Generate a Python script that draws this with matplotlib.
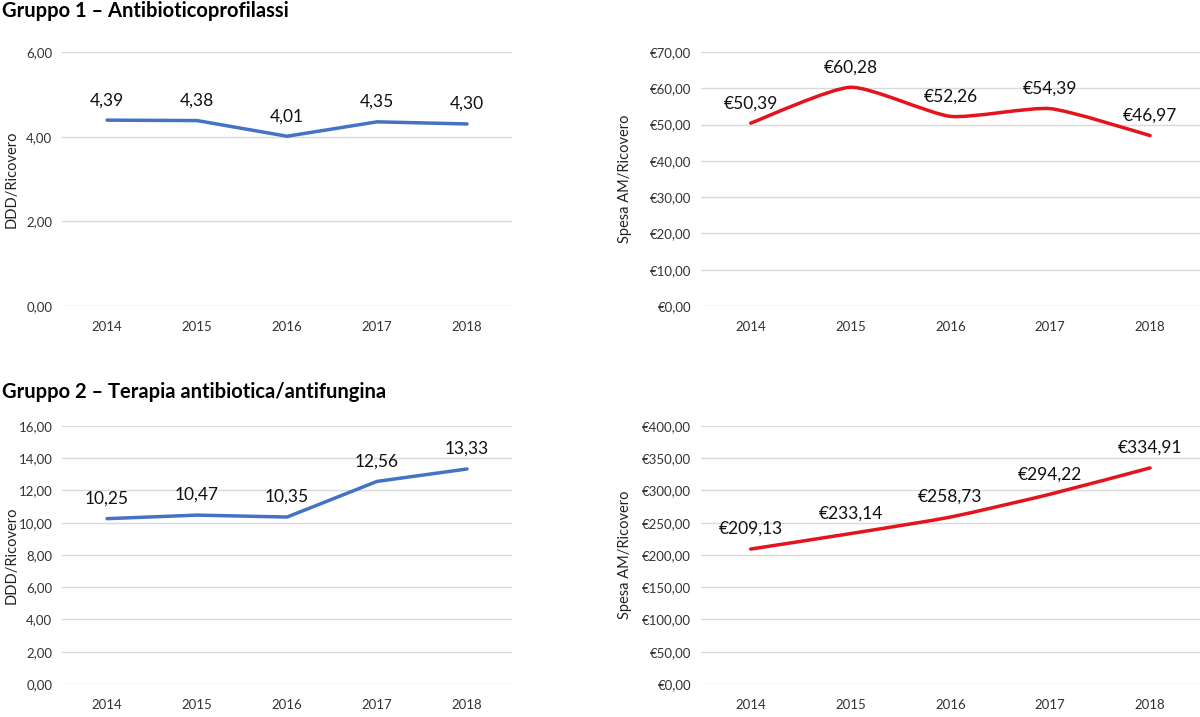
import matplotlib
matplotlib.use("Agg")
import matplotlib.pyplot as plt
from matplotlib.path import Path
from matplotlib.patches import PathPatch
from matplotlib.ticker import FuncFormatter, MultipleLocator

plt.rcParams['font.family'] = ['Lato', 'DejaVu Sans']

years = ['2014', '2015', '2016', '2017', '2018']

# Gruppo 1 - Antibioticoprofilassi
ddd_g1 = [4.39, 4.38, 4.01, 4.35, 4.30]
spesa_g1 = [50.39, 60.28, 52.26, 54.39, 46.97]

# Gruppo 2 - Terapia antibiotica/antifungina
ddd_g2 = [10.25, 10.47, 10.35, 12.56, 13.33]
spesa_g2 = [209.13, 233.14, 258.73, 294.22, 334.91]

BLUE = '#4472C4'
RED = '#E3141B'
GRID = '#D9D9D9'


def it_num(v):
    return f"{v:.2f}".replace('.', ',')


def euro(v):
    return "€" + it_num(v)


def smooth_path(x, y, k=10):
    # bezier segments through the data points (like excel "smoothed line")
    verts = [(x[0], y[0])]
    codes = [Path.MOVETO]
    n = len(x)
    for i in range(n - 1):
        x0, y0 = (x[i - 1], y[i - 1]) if i > 0 else (x[i], y[i])
        x3, y3 = (x[i + 2], y[i + 2]) if i + 2 < n else (x[i + 1], y[i + 1])
        c1 = (x[i] + (x[i + 1] - x0) / k, y[i] + (y[i + 1] - y0) / k)
        c2 = (x[i + 1] - (x3 - x[i]) / k, y[i + 1] - (y3 - y[i]) / k)
        verts += [c1, c2, (x[i + 1], y[i + 1])]
        codes += [Path.CURVE4] * 3
    return Path(verts, codes)


def panel(rect, values, ymax, step, color, ylabel, fmt, label_x, smooth=False):
    ax = fig.add_axes(rect)
    xs = list(range(len(years)))
    if smooth:
        ax.add_patch(PathPatch(smooth_path(xs, values), facecolor='none',
                               edgecolor=color, lw=2.5, capstyle='round', zorder=3))
    else:
        ax.plot(xs, values, color=color, lw=2.5, solid_capstyle='round', zorder=3)
    for x, v in zip(xs, values):
        ax.annotate(fmt(v), (x, v), xytext=(0, 20), textcoords='offset pixels',
                    ha='center', va='center', fontsize=12.5, color='#111111')
    ax.set_xlim(-0.5, len(years) - 0.5)
    ax.set_ylim(0, ymax)
    ax.yaxis.set_major_locator(MultipleLocator(step))
    ax.yaxis.set_major_formatter(FuncFormatter(lambda v, p: fmt(v)))
    ax.set_xticks(xs)
    ax.set_xticklabels(years)
    ax.tick_params(length=0, labelsize=9.5, colors='#333333')
    ax.tick_params(axis='x', pad=11)
    ax.tick_params(axis='y', pad=7)
    ax.grid(axis='y', color=GRID, lw=1)
    ax.set_axisbelow(True)
    for s in ax.spines.values():
        s.set_visible(False)
    ax.set_ylabel(ylabel, fontsize=10.5, color='#222222')
    # place y label centred on a fixed pixel column like the original
    ax.yaxis.label.set_va('center')
    ax.yaxis.set_label_coords((label_x / 1200 - rect[0]) / rect[2], 0.5)
    return ax


fig = plt.figure(figsize=(12, 7.17), dpi=100)

fig.text(0.002, 0.985, 'Gruppo 1 – Antibioticoprofilassi', fontsize=14.5,
         fontweight='bold', va='center', ha='left')
fig.text(0.002, 0.453, 'Gruppo 2 – Terapia antibiotica/antifungina', fontsize=14.5,
         fontweight='bold', va='center', ha='left')

ax1 = panel([0.0517, 0.5732, 0.375, 0.3543], ddd_g1, 6, 2, BLUE, 'DDD/Ricovero', it_num, 12)
ax2 = panel([0.584, 0.5732, 0.416, 0.3543], spesa_g1, 70, 10, RED, 'Spesa AM/Ricovero', euro, 625, smooth=True)
ax3 = panel([0.0517, 0.046, 0.375, 0.360], ddd_g2, 16, 2, BLUE, 'DDD/Ricovero', it_num, 12)
ax4 = panel([0.584, 0.046, 0.416, 0.360], spesa_g2, 400, 50, RED, 'Spesa AM/Ricovero', euro, 625, smooth=True)

fig.savefig('out.png', dpi=100)
